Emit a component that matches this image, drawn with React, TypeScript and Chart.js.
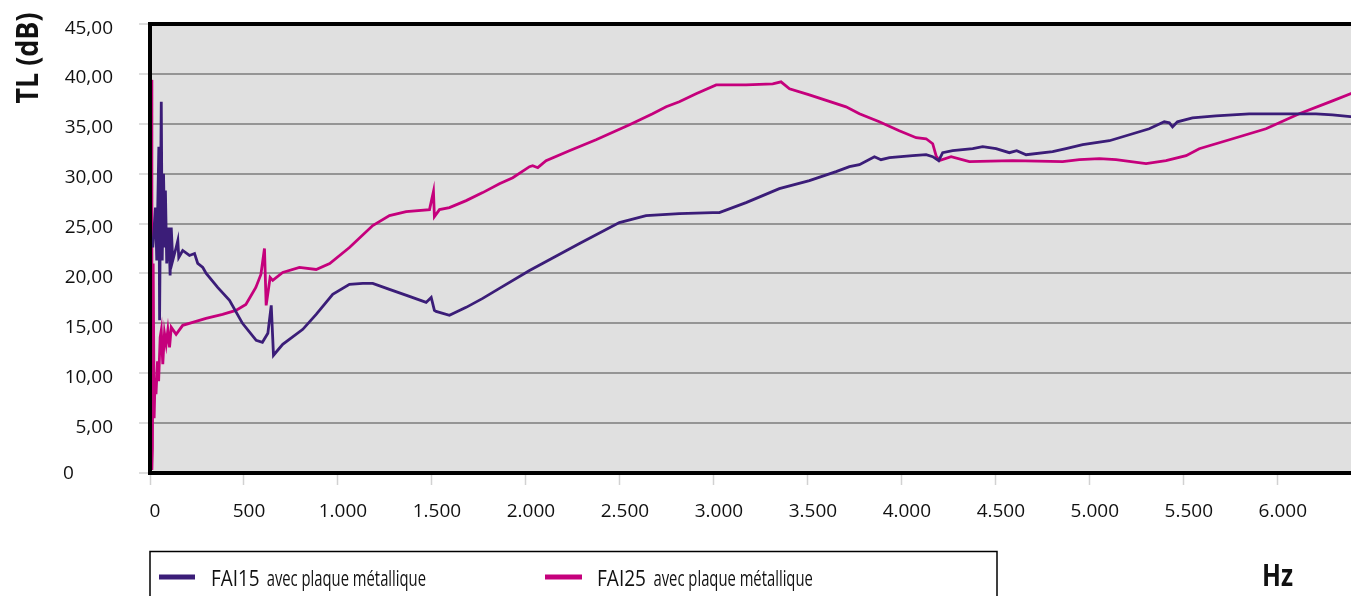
import React, { useEffect, useRef } from "react";
import { Chart, registerables } from "chart.js";

Chart.register(...registerables);

// ---- Data ----
const fai15Freq = [15, 29, 36, 47, 51, 60, 65, 72, 79, 82, 89, 100, 107, 113, 121, 139, 148, 153, 174, 210, 237, 254, 281, 299, 360, 423, 492, 565, 598, 627, 645, 657, 706, 813, 884, 972, 1061, 1132, 1185, 1274, 1380, 1469, 1496, 1513, 1522, 1593, 1682, 1770, 1859, 2019, 2285, 2497, 2639, 2816, 2994, 3029, 3171, 3348, 3508, 3650, 3721, 3774, 3854, 3889, 3934, 4057, 4129, 4164, 4196, 4217, 4270, 4377, 4430, 4501, 4572, 4611, 4661, 4802, 4873, 4962, 5104, 5228, 5316, 5396, 5423, 5440, 5466, 5546, 5671, 5848, 6025, 6203, 6291, 6400];
const fai15TL = [22.6, 26.6, 21.3, 32.7, 15.3, 37.2, 21.3, 30.0, 22.6, 28.3, 21.0, 24.6, 19.8, 24.6, 21.3, 22.6, 23.3, 21.6, 22.3, 21.8, 22.0, 21.0, 20.6, 20.0, 18.6, 17.3, 15.0, 13.3, 13.1, 14.0, 16.8, 11.8, 12.9, 14.4, 15.9, 17.9, 18.9, 19.0, 19.0, 18.4, 17.7, 17.1, 17.6, 16.3, 16.2, 15.8, 16.6, 17.5, 18.5, 20.3, 23.0, 25.1, 25.8, 26.0, 26.1, 26.1, 27.1, 28.5, 29.3, 30.2, 30.7, 30.9, 31.7, 31.4, 31.6, 31.8, 31.9, 31.7, 31.3, 32.1, 32.3, 32.5, 32.7, 32.5, 32.1, 32.3, 31.9, 32.2, 32.5, 32.9, 33.3, 34.0, 34.5, 35.2, 35.1, 34.7, 35.2, 35.6, 35.8, 36.0, 36.0, 36.0, 35.9, 35.7];

const fai25Freq = [9, 10, 13, 17, 22, 27, 32, 40, 46, 54, 60, 68, 77, 86, 95, 104, 113, 139, 174, 227, 298, 386, 457, 510, 563, 590, 609, 618, 639, 653, 706, 795, 884, 956, 1061, 1185, 1274, 1363, 1487, 1508, 1513, 1540, 1593, 1682, 1770, 1859, 1930, 2019, 2036, 2063, 2107, 2231, 2373, 2551, 2674, 2746, 2816, 2905, 3012, 3171, 3313, 3357, 3402, 3508, 3703, 3774, 3880, 3986, 4076, 4129, 4164, 4182, 4199, 4262, 4359, 4589, 4855, 4944, 5051, 5139, 5299, 5405, 5512, 5582, 5760, 5937, 6114, 6291, 6400];
const fai25TL = [39.4, 0.3, 2.5, 21.0, 5.5, 9.5, 7.9, 11.2, 9.2, 13.6, 14.3, 10.9, 14.0, 12.9, 14.3, 12.6, 14.6, 13.9, 14.8, 15.1, 15.5, 15.9, 16.3, 16.9, 18.6, 19.9, 22.5, 16.8, 19.6, 19.3, 20.1, 20.6, 20.4, 21.0, 22.6, 24.8, 25.8, 26.2, 26.4, 28.2, 25.7, 26.4, 26.6, 27.3, 28.1, 29.0, 29.6, 30.7, 30.8, 30.6, 31.3, 32.3, 33.4, 34.9, 36.0, 36.7, 37.2, 38.0, 38.9, 38.9, 39.0, 39.2, 38.5, 37.9, 36.7, 36.0, 35.2, 34.3, 33.6, 33.5, 33.0, 31.8, 31.3, 31.7, 31.2, 31.3, 31.2, 31.4, 31.5, 31.4, 31.0, 31.3, 31.8, 32.5, 33.5, 34.5, 36.0, 37.3, 38.1];

const xTickValues = [0, 500, 1000, 1500, 2000, 2500, 3000, 3500, 4000, 4500, 5000, 5500, 6000];
const xTickLabels = ["0", "500", "1.000", "1.500", "2.000", "2.500", "3.000", "3.500", "4.000", "4.500", "5.000", "5.500", "6.000"];
const yTickValues = [0, 5, 10, 15, 20, 25, 30, 35, 40, 45];
const yTickLabels = ["0", "5,00", "10,00", "15,00", "20,00", "25,00", "30,00", "35,00", "40,00", "45,00"];

const seriesCodes = ["FAI15", "FAI25"];
const seriesSuffix = "avec plaque métallique";
const yTitle = "TL (dB)";
const xTitle = "Hz";

const PURPLE = "#3b1d78";
const MAGENTA = "#c5007c";
const FONT = '"Open Sans", "Noto Sans", sans-serif';

function drawFitted(ctx: CanvasRenderingContext2D, text: string, x: number, y: number, width: number) {
  const w = ctx.measureText(text).width;
  ctx.save();
  ctx.translate(x, y);
  ctx.scale(width / w, 1);
  ctx.textAlign = "left";
  ctx.fillText(text, 0, 0);
  ctx.restore();
}

const decorPlugin = {
  id: "decor",
  beforeDraw(chart: any) {
    const { ctx, chartArea } = chart;
    const { left, top, right, bottom } = chartArea;
    ctx.save();
    ctx.fillStyle = "#e0e0e0";
    ctx.fillRect(left, top, right - left, bottom - top);
    ctx.restore();
  },
  afterDraw(chart: any) {
    const { ctx, chartArea } = chart;
    const { left, top, right, bottom } = chartArea;
    const xs = chart.scales.x;
    const ys = chart.scales.y;
    ctx.save();
    // plot frame
    ctx.strokeStyle = "#000";
    ctx.lineWidth = 4;
    ctx.lineJoin = "miter";
    ctx.beginPath();
    ctx.moveTo(right + 10, top);
    ctx.lineTo(left, top);
    ctx.lineTo(left, bottom);
    ctx.lineTo(right + 10, bottom);
    ctx.stroke();

    // y tick labels
    ctx.fillStyle = "#111";
    ctx.font = `19px ${FONT}`;
    ctx.textBaseline = "alphabetic";
    yTickValues.forEach((v, i) => {
      const py = ys.getPixelForValue(v);
      if (v === 0) {
        ctx.textAlign = "left";
        ctx.fillText(yTickLabels[i], 63, py + 6);
      } else {
        ctx.textAlign = "right";
        ctx.fillText(yTickLabels[i], 113, py + 9.5);
      }
    });
    // x tick labels
    ctx.textAlign = "center";
    xTickValues.forEach((v, i) => {
      const px = xs.getPixelForValue(v);
      ctx.fillText(xTickLabels[i], px + 5, 516.5);
    });

    // y title (rotated)
    ctx.font = `bold 30px ${FONT}`;
    ctx.save();
    ctx.translate(37.5, 58);
    ctx.rotate(-Math.PI / 2);
    const tw = ctx.measureText(yTitle).width;
    const tl = 91;
    ctx.scale(tl / tw, 1);
    ctx.textAlign = "center";
    ctx.textBaseline = "alphabetic";
    ctx.fillText(yTitle, 0, 0);
    ctx.restore();

    // x title
    ctx.textBaseline = "alphabetic";
    drawFitted(ctx, xTitle, 1262, 586, 31);

    // legend box
    ctx.strokeStyle = "#000";
    ctx.lineWidth = 1.5;
    ctx.strokeRect(150, 551.5, 847, 60);
    const items = [
      { color: PURPLE, x0: 159, x1: 195, codeX: 211, codeW: 48.6, sufX: 266.7, sufW: 159.3 },
      { color: MAGENTA, x0: 545, x1: 582, codeX: 597, codeW: 49, sufX: 653.5, sufW: 159.3 },
    ];
    items.forEach((it, i) => {
      ctx.strokeStyle = it.color;
      ctx.lineWidth = 5;
      ctx.beginPath();
      ctx.moveTo(it.x0, 577);
      ctx.lineTo(it.x1, 577);
      ctx.stroke();
      ctx.fillStyle = "#111";
      ctx.font = `21px ${FONT}`;
      drawFitted(ctx, seriesCodes[i], it.codeX, 585.7, it.codeW);
      drawFitted(ctx, seriesSuffix, it.sufX, 585.7, it.sufW);
    });
    ctx.restore();
  },
};

export default function App() {
  const canvasRef = useRef<HTMLCanvasElement | null>(null);

  useEffect(() => {
    const canvas = canvasRef.current;
    if (!canvas) return;
    const chart = new Chart(canvas, {
      type: "line",
      data: {
        datasets: [
          {
            label: `${seriesCodes[0]} ${seriesSuffix}`,
            data: fai15Freq.map((f, i) => ({ x: f, y: fai15TL[i] })),
            borderColor: PURPLE,
            backgroundColor: PURPLE,
            borderWidth: 2.8,
            pointRadius: 0,
            tension: 0,
            fill: false,
          },
          {
            label: `${seriesCodes[1]} ${seriesSuffix}`,
            data: fai25Freq.map((f, i) => ({ x: f, y: fai25TL[i] })),
            borderColor: MAGENTA,
            backgroundColor: MAGENTA,
            borderWidth: 2.8,
            pointRadius: 0,
            tension: 0,
            fill: false,
          },
        ],
      },
      options: {
        animation: false,
        responsive: false,
        devicePixelRatio: 1,
        layout: { padding: { left: 0, top: 24, right: 7, bottom: 0 } },
        plugins: {
          legend: { display: false },
          tooltip: { enabled: false },
          title: { display: false },
        },
        scales: {
          x: {
            type: "linear",
            min: 0,
            max: 6400,
            afterBuildTicks: (s: any) => {
              s.ticks = xTickValues.map((v) => ({ value: v }));
            },
            afterFit: (s: any) => {
              s.height = 123;
            },
            ticks: { display: false },
            grid: {
              display: true,
              drawOnChartArea: false,
              drawTicks: true,
              tickLength: 12,
              tickColor: "#d2d2d2",
              tickWidth: 1.5,
            },
            border: { display: false },
          },
          y: {
            type: "linear",
            min: 0,
            max: 45,
            afterBuildTicks: (s: any) => {
              s.ticks = yTickValues.map((v) => ({ value: v }));
            },
            afterFit: (s: any) => {
              s.width = 150;
            },
            ticks: { display: false },
            grid: {
              color: "#959595",
              lineWidth: 2,
              drawTicks: true,
              tickLength: 11,
              tickColor: "#d2d2d2",
              tickWidth: 1.5,
            },
            border: { display: false },
          },
        },
      } as any,
      plugins: [decorPlugin],
    });
    return () => chart.destroy();
  }, []);

  return (
    <div
      style={{
        position: "fixed",
        left: 0,
        top: 0,
        width: 1351,
        height: 596,
        overflow: "hidden",
        background: "#fff",
      }}
    >
      <canvas ref={canvasRef} width={1360} height={596} style={{ display: "block" }} />
    </div>
  );
}
